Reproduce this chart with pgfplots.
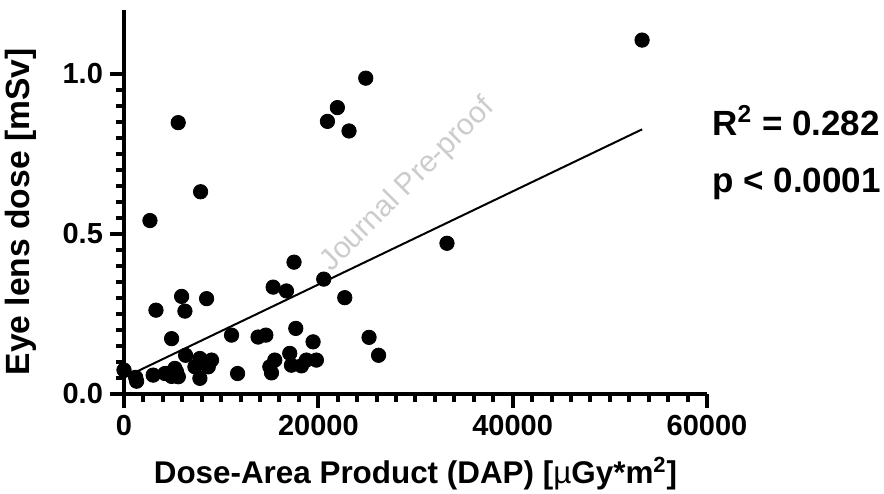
\documentclass[border=0pt]{standalone}
\usepackage{fontspec}
\setmainfont{Liberation Sans}
\usepackage{pgfplots}
\pgfplotsset{compat=1.18}

\begin{document}
\begin{tikzpicture}
% frame of the whole picture, axis box lower left at (0,0)
\path[use as bounding box] (-62pt,-49.5pt) rectangle (380pt,197pt);
\begin{axis}[
  at={(0,0)}, anchor=south west,
  scale only axis, width=291.5pt, height=192pt,
  xmin=0, xmax=60000, ymin=0, ymax=1.2,
  axis x line*=bottom, axis y line*=left,
  axis line style={-, line width=2pt},
  every outer x axis line/.append style={-},
  every outer y axis line/.append style={-},
  xtick={0,20000,40000,60000}, minor x tick num=9,
  ytick={0,0.5,1.0}, yticklabels={0.0,0.5,1.0}, minor y tick num=9,
  scaled x ticks=false,
  tick align=outside,
  major tick length=7pt, minor tick length=4pt,
  every tick/.style={black, line width=2pt},
  /pgf/number format/1000 sep={},
  /pgf/number format/assume math mode=true,
  tick label style={font=\fontsize{14.5}{16}\selectfont\bfseries},
  xlabel={Dose-Area Product (DAP) [{\mdseries µ}Gy*m\textsuperscript{2}]},
  ylabel={Eye lens dose [mSv]},
  xlabel style={font=\fontsize{15.7}{18}\selectfont\bfseries, yshift=-4pt},
  ylabel style={font=\fontsize{16.8}{18}\selectfont\bfseries,
    at={(ticklabel cs:0.474)}, yshift=6pt},
  clip=false,
]
\node[rotate=45, text=black!20, font=\fontsize{15}{17}\selectfont]
  at (rel axis cs:0.487,0.544) {Journal Pre-proof};

\addplot[only marks, mark=*, mark size=3.6pt, black] coordinates {
(0,0.075) (1200,0.052) (1300,0.040) (2670,0.542) (3000,0.059)
(3290,0.262) (4220,0.064) (4390,0.064) (4900,0.173) (4900,0.055)
(5240,0.080) (5400,0.070) (5590,0.054) (5580,0.848) (5930,0.305)
(6270,0.259) (6340,0.121) (7300,0.085) (7810,0.111) (7810,0.049)
(7880,0.632) (8500,0.298) (8670,0.085) (9010,0.106) (11070,0.184)
(11690,0.064) (13800,0.178) (14600,0.184) (15010,0.085) (15180,0.066)
(15350,0.334) (15520,0.106) (16720,0.322) (17060,0.127) (17230,0.090)
(17500,0.412) (17680,0.205) (18260,0.088) (18770,0.106) (19460,0.163)
(19800,0.106) (20560,0.359) (20940,0.852) (21960,0.895) (22720,0.301)
(23160,0.822) (24880,0.987) (25220,0.177) (26200,0.121) (33240,0.471)
(53320,1.106)
};
\addplot[black, line width=1pt, no marks] coordinates {(0,0.051) (53320,0.827)};

\node[anchor=base west, inner sep=0pt, font=\fontsize{17.5}{20}\selectfont\bfseries]
  at (rel axis cs:1.0086,0.674) {R\textsuperscript{2} = 0.282};
\node[anchor=base west, inner sep=0pt, font=\fontsize{17.5}{20}\selectfont\bfseries]
  at (rel axis cs:1.0086,0.526) {p < 0.0001};
\end{axis}
\end{tikzpicture}
\end{document}
